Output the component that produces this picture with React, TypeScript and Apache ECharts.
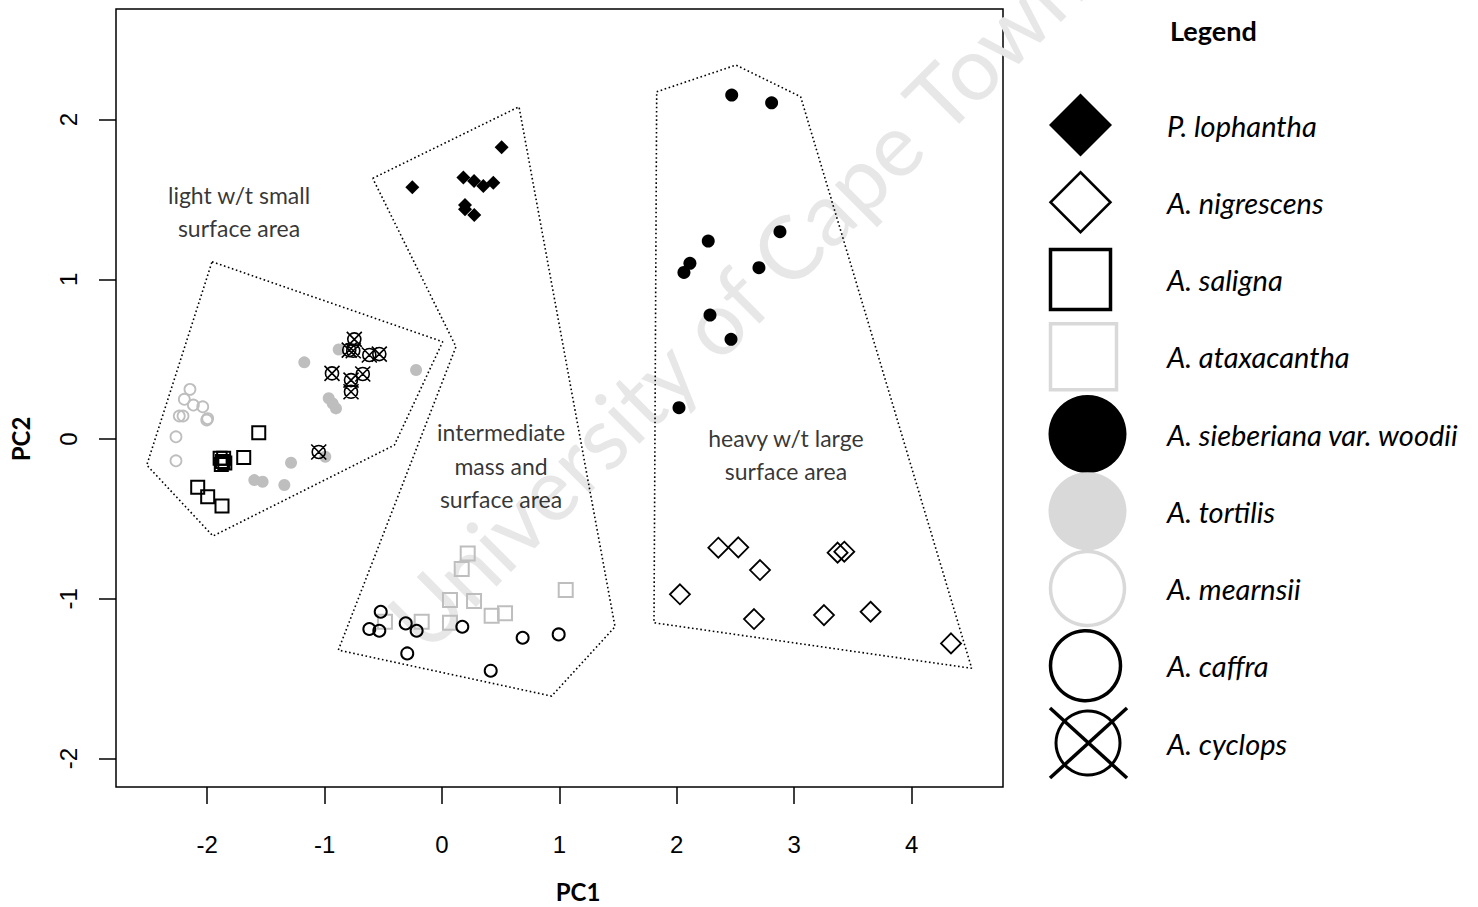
import React, { useEffect, useRef } from "react";
import * as echarts from "echarts";

// ---------- axes ----------
const xTicks = [-2, -1, 0, 1, 2, 3, 4];
const yTicks = [-2, -1, 0, 1, 2];
const xRange = [-2.777, 4.779];
const yRange = [-2.178, 2.692];

// ---------- species scores (PC1, PC2) ----------
const pLophantha = [[-0.253, 1.576], [0.508, 1.826], [0.182, 1.638], [0.273, 1.615], [0.352, 1.584], [0.437, 1.605], [0.196, 1.465], [0.196, 1.438], [0.275, 1.402]];
const aNigrescens = [[2.354, -0.68], [2.524, -0.678], [2.709, -0.82], [2.027, -0.972], [2.658, -1.127], [3.254, -1.102], [3.651, -1.081], [3.37, -0.711], [3.427, -0.705], [4.336, -1.279]];
const aSaligna = [[-1.561, 0.039], [-1.689, -0.115], [-1.89, -0.12], [-1.87, -0.14], [-1.86, -0.12], [-1.88, -0.16], [-1.85, -0.15], [-2.081, -0.302], [-1.996, -0.361], [-1.874, -0.419]];
const aAtaxacantha = [[0.219, -0.716], [0.168, -0.814], [0.068, -1.008], [0.273, -1.014], [0.423, -1.106], [0.537, -1.091], [1.054, -0.945], [0.068, -1.15], [-0.173, -1.143], [-0.486, -1.143]];
const aSieberiana = [[2.468, 2.153], [2.808, 2.105], [2.879, 1.298], [2.268, 1.239], [2.112, 1.1], [2.061, 1.043], [2.7, 1.073], [2.283, 0.776], [2.462, 0.624], [2.019, 0.196]];
const aTortilis = [[-1.173, 0.48], [-0.88, 0.561], [-0.221, 0.432], [-0.965, 0.255], [-0.931, 0.223], [-0.903, 0.192], [-1.286, -0.148], [-1.599, -0.257], [-1.528, -0.267], [-1.343, -0.288], [-0.994, -0.111]];
const aMearnsii = [[-2.147, 0.311], [-2.195, 0.249], [-2.118, 0.213], [-2.038, 0.202], [-2.238, 0.144], [-2.206, 0.144], [-1.996, 0.128], [-2.004, 0.119], [-2.266, 0.014], [-2.266, -0.136]];
const aCaffra = [[-0.522, -1.081], [-0.619, -1.189], [-0.534, -1.2], [-0.309, -1.154], [-0.216, -1.2], [-0.296, -1.342], [0.173, -1.175], [0.687, -1.244], [0.994, -1.223], [0.415, -1.45]];
const aCyclops = [[-0.747, 0.624], [-0.79, 0.557], [-0.756, 0.553], [-0.619, 0.526], [-0.534, 0.532], [-0.937, 0.411], [-0.675, 0.407], [-0.775, 0.369], [-0.775, 0.296], [-1.05, -0.081]];

// ---------- group hulls ----------
const hullLight = [[-1.959, 1.11], [0.006, 0.609], [-0.406, -0.038], [-1.951, -0.607], [-2.515, -0.163]];
const hullIntermediate = [[-0.59, 1.632], [0.656, 2.08], [1.474, -1.175], [0.934, -1.609], [-0.883, -1.321], [0.119, 0.578]];
const hullHeavy = [[1.829, 2.174], [2.504, 2.341], [3.055, 2.143], [4.512, -1.435], [1.806, -1.15]];

// ---------- group annotations ----------
const groupNames = ["light w/t small\nsurface area", "intermediate\nmass and\nsurface area", "heavy w/t large\nsurface area"];
const groupAnchors = [[-1.729, 1.424], [0.503, -0.166], [2.93, -0.097]];

// ---------- legend ----------
const legendTitle = "Legend";
const legendNames = ["P. lophantha", "A. nigrescens", "A. saligna", "A. ataxacantha", "A. sieberiana var. woodii", "A. tortilis", "A. mearnsii", "A. caffra", "A. cyclops"];
const watermark = "University of Cape Town";

const BLACK = "#000000";
const GREY = "#bebebe";
const LGREY = "#d9d9d9";
const CALIBRI = "Lato, 'Open Sans', sans-serif";
const ARIAL = "'Liberation Sans', Arial, sans-serif";
const CYCLOPS_PATH = "path://M0,-10A10,10,0,1,1,0,10A10,10,0,1,1,0,-10ZM-11.5,-11.5L11.5,11.5M11.5,-11.5L-11.5,11.5";

function hullSeries(name: string, pts: number[][]) {
  return {
    name,
    type: "line",
    data: [...pts, pts[0]],
    symbol: "none",
    silent: true,
    z: 1,
    lineStyle: { color: BLACK, width: 1.6, type: [1.6, 2.6], cap: "butt" },
  };
}

function scatter(name: string, data: number[][], symbol: string, size: number, fill: string, stroke: string, bw: number) {
  return {
    name,
    type: "scatter",
    data,
    symbol,
    symbolSize: size,
    z: 3,
    itemStyle: { color: fill, borderColor: stroke, borderWidth: bw, opacity: 1 },
  };
}

function legendGraphics() {
  const els: any[] = [];
  const y0 = 125;
  const step = 77.25;
  const cy = (i: number) => y0 + i * step;
  els.push({
    type: "text",
    x: 1170,
    y: 30,
    style: { text: legendTitle, fontFamily: CALIBRI, fontWeight: "bold", fontSize: 27, fill: BLACK, textVerticalAlign: "middle" },
  });
  legendNames.forEach((n, i) => {
    els.push({
      type: "text",
      x: 1167,
      y: cy(i),
      style: { text: n, fontFamily: CALIBRI, fontStyle: "italic", fontSize: 29, fill: BLACK, textVerticalAlign: "middle" },
    });
  });
  const dia = (cx: number, c: number, h: number) => [[cx, c - h], [cx + h, c], [cx, c + h], [cx - h, c]];
  els.push({ type: "polygon", shape: { points: dia(1080.5, cy(0), 31.5) }, style: { fill: BLACK } });
  els.push({ type: "polygon", shape: { points: dia(1080.5, cy(1), 30) }, style: { fill: "none", stroke: BLACK, lineWidth: 2.5 } });
  els.push({ type: "rect", shape: { x: 1050.5, y: cy(2) - 30, width: 60, height: 60 }, style: { fill: "none", stroke: BLACK, lineWidth: 3.5 } });
  els.push({ type: "rect", shape: { x: 1050.5, y: cy(3) - 33, width: 66, height: 66 }, style: { fill: "none", stroke: LGREY, lineWidth: 3.5 } });
  els.push({ type: "circle", shape: { cx: 1087.5, cy: cy(4), r: 39 }, style: { fill: BLACK } });
  els.push({ type: "circle", shape: { cx: 1087.5, cy: cy(5), r: 39 }, style: { fill: LGREY } });
  els.push({ type: "circle", shape: { cx: 1087.5, cy: cy(6), r: 37 }, style: { fill: "none", stroke: LGREY, lineWidth: 3.5 } });
  els.push({ type: "circle", shape: { cx: 1085.5, cy: cy(7), r: 35 }, style: { fill: "none", stroke: BLACK, lineWidth: 3.5 } });
  els.push({ type: "circle", shape: { cx: 1088, cy: cy(8), r: 32 }, style: { fill: "none", stroke: BLACK, lineWidth: 3 } });
  els.push({ type: "line", shape: { x1: 1050, y1: cy(8) - 35, x2: 1127, y2: cy(8) + 35 }, style: { stroke: BLACK, lineWidth: 3.5 } });
  els.push({ type: "line", shape: { x1: 1127, y1: cy(8) - 35, x2: 1050, y2: cy(8) + 35 }, style: { stroke: BLACK, lineWidth: 3.5 } });
  return els;
}

export default function App() {
  const ref = useRef<HTMLDivElement>(null);
  useEffect(() => {
    if (!ref.current) return;
    const chart = echarts.init(ref.current, undefined, { renderer: "svg" });
    const option: any = {
      animation: false,
      backgroundColor: "#ffffff",
      grid: {
        left: 116, right: 475, top: 9, bottom: 120,
        show: true, borderColor: BLACK, borderWidth: 1.5, backgroundColor: "transparent",
        containLabel: false, outerBoundsMode: "none",
      },
      xAxis: {
        type: "value",
        min: xRange[0],
        max: xRange[1],
        splitNumber: 8,
        axisLine: { show: false, onZero: false },
        splitLine: { show: false },
        axisTick: { show: true, length: 17, lineStyle: { color: BLACK, width: 1.5 }, customValues: xTicks },
        axisLabel: { customValues: xTicks, fontFamily: ARIAL, fontSize: 24, color: BLACK, margin: 45 },
        name: "PC1",
        nameLocation: "middle",
        nameGap: 92,
        nameTextStyle: { fontFamily: CALIBRI, fontWeight: "bold", fontSize: 24, color: BLACK, padding: [0, 0, 0, 37] },
      },
      yAxis: {
        type: "value",
        min: yRange[0],
        max: yRange[1],
        splitNumber: 5,
        axisLine: { show: false, onZero: false },
        splitLine: { show: false },
        axisTick: { show: true, length: 17, lineStyle: { color: BLACK, width: 1.5 }, customValues: yTicks },
        axisLabel: { customValues: yTicks, fontFamily: ARIAL, fontSize: 24, color: BLACK, margin: 36, rotate: 90 },
        name: "PC2",
        nameLocation: "middle",
        nameGap: 84,
        nameRotate: 90,
        nameTextStyle: { fontFamily: CALIBRI, fontWeight: "bold", fontSize: 24, color: BLACK, padding: [0, 82, 0, 0] },
      },
      graphic: [
        {
          type: "text",
          x: 735,
          y: 300,
          rotation: Math.PI / 4,
          z: 0,
          silent: true,
          style: { text: watermark, fontFamily: CALIBRI, fontSize: 88, fill: "#e7e7e7", textAlign: "center", textVerticalAlign: "middle" },
        },
        ...legendGraphics(),
      ],
      series: [
        hullSeries("light", hullLight),
        hullSeries("intermediate", hullIntermediate),
        hullSeries("heavy", hullHeavy),
        scatter(legendNames[5], aTortilis, "circle", 12, GREY, GREY, 0),
        scatter(legendNames[6], aMearnsii, "circle", 11, "rgba(0,0,0,0)", GREY, 1.8),
        scatter(legendNames[3], aAtaxacantha, "rect", 14, "rgba(0,0,0,0)", GREY, 2),
        scatter(legendNames[0], pLophantha, "diamond", 14, BLACK, BLACK, 0),
        scatter(legendNames[1], aNigrescens, "diamond", 20, "rgba(0,0,0,0)", BLACK, 1.8),
        scatter(legendNames[2], aSaligna, "rect", 13, "rgba(0,0,0,0)", BLACK, 2),
        scatter(legendNames[4], aSieberiana, "circle", 13, BLACK, BLACK, 0),
        scatter(legendNames[7], aCaffra, "circle", 12, "rgba(0,0,0,0)", BLACK, 2),
        scatter(legendNames[8], aCyclops, CYCLOPS_PATH, 15, "rgba(0,0,0,0)", BLACK, 1.6),
        {
          name: "groups",
          type: "scatter",
          symbolSize: 0,
          silent: true,
          z: 4,
          data: groupNames.map((n, i) => ({ name: n, value: groupAnchors[i] })),
          label: {
            show: true,
            position: "inside",
            formatter: "{b}",
            fontFamily: CALIBRI,
            fontSize: 23,
            lineHeight: 33.5,
            color: BLACK,
            align: "center",
          },
        },
      ],
    };
    chart.setOption(option);
    return () => chart.dispose();
  }, []);
  return <div ref={ref} style={{ position: "fixed", left: 0, top: 0, width: 1478, height: 907, background: "#fff" }} />;
}
